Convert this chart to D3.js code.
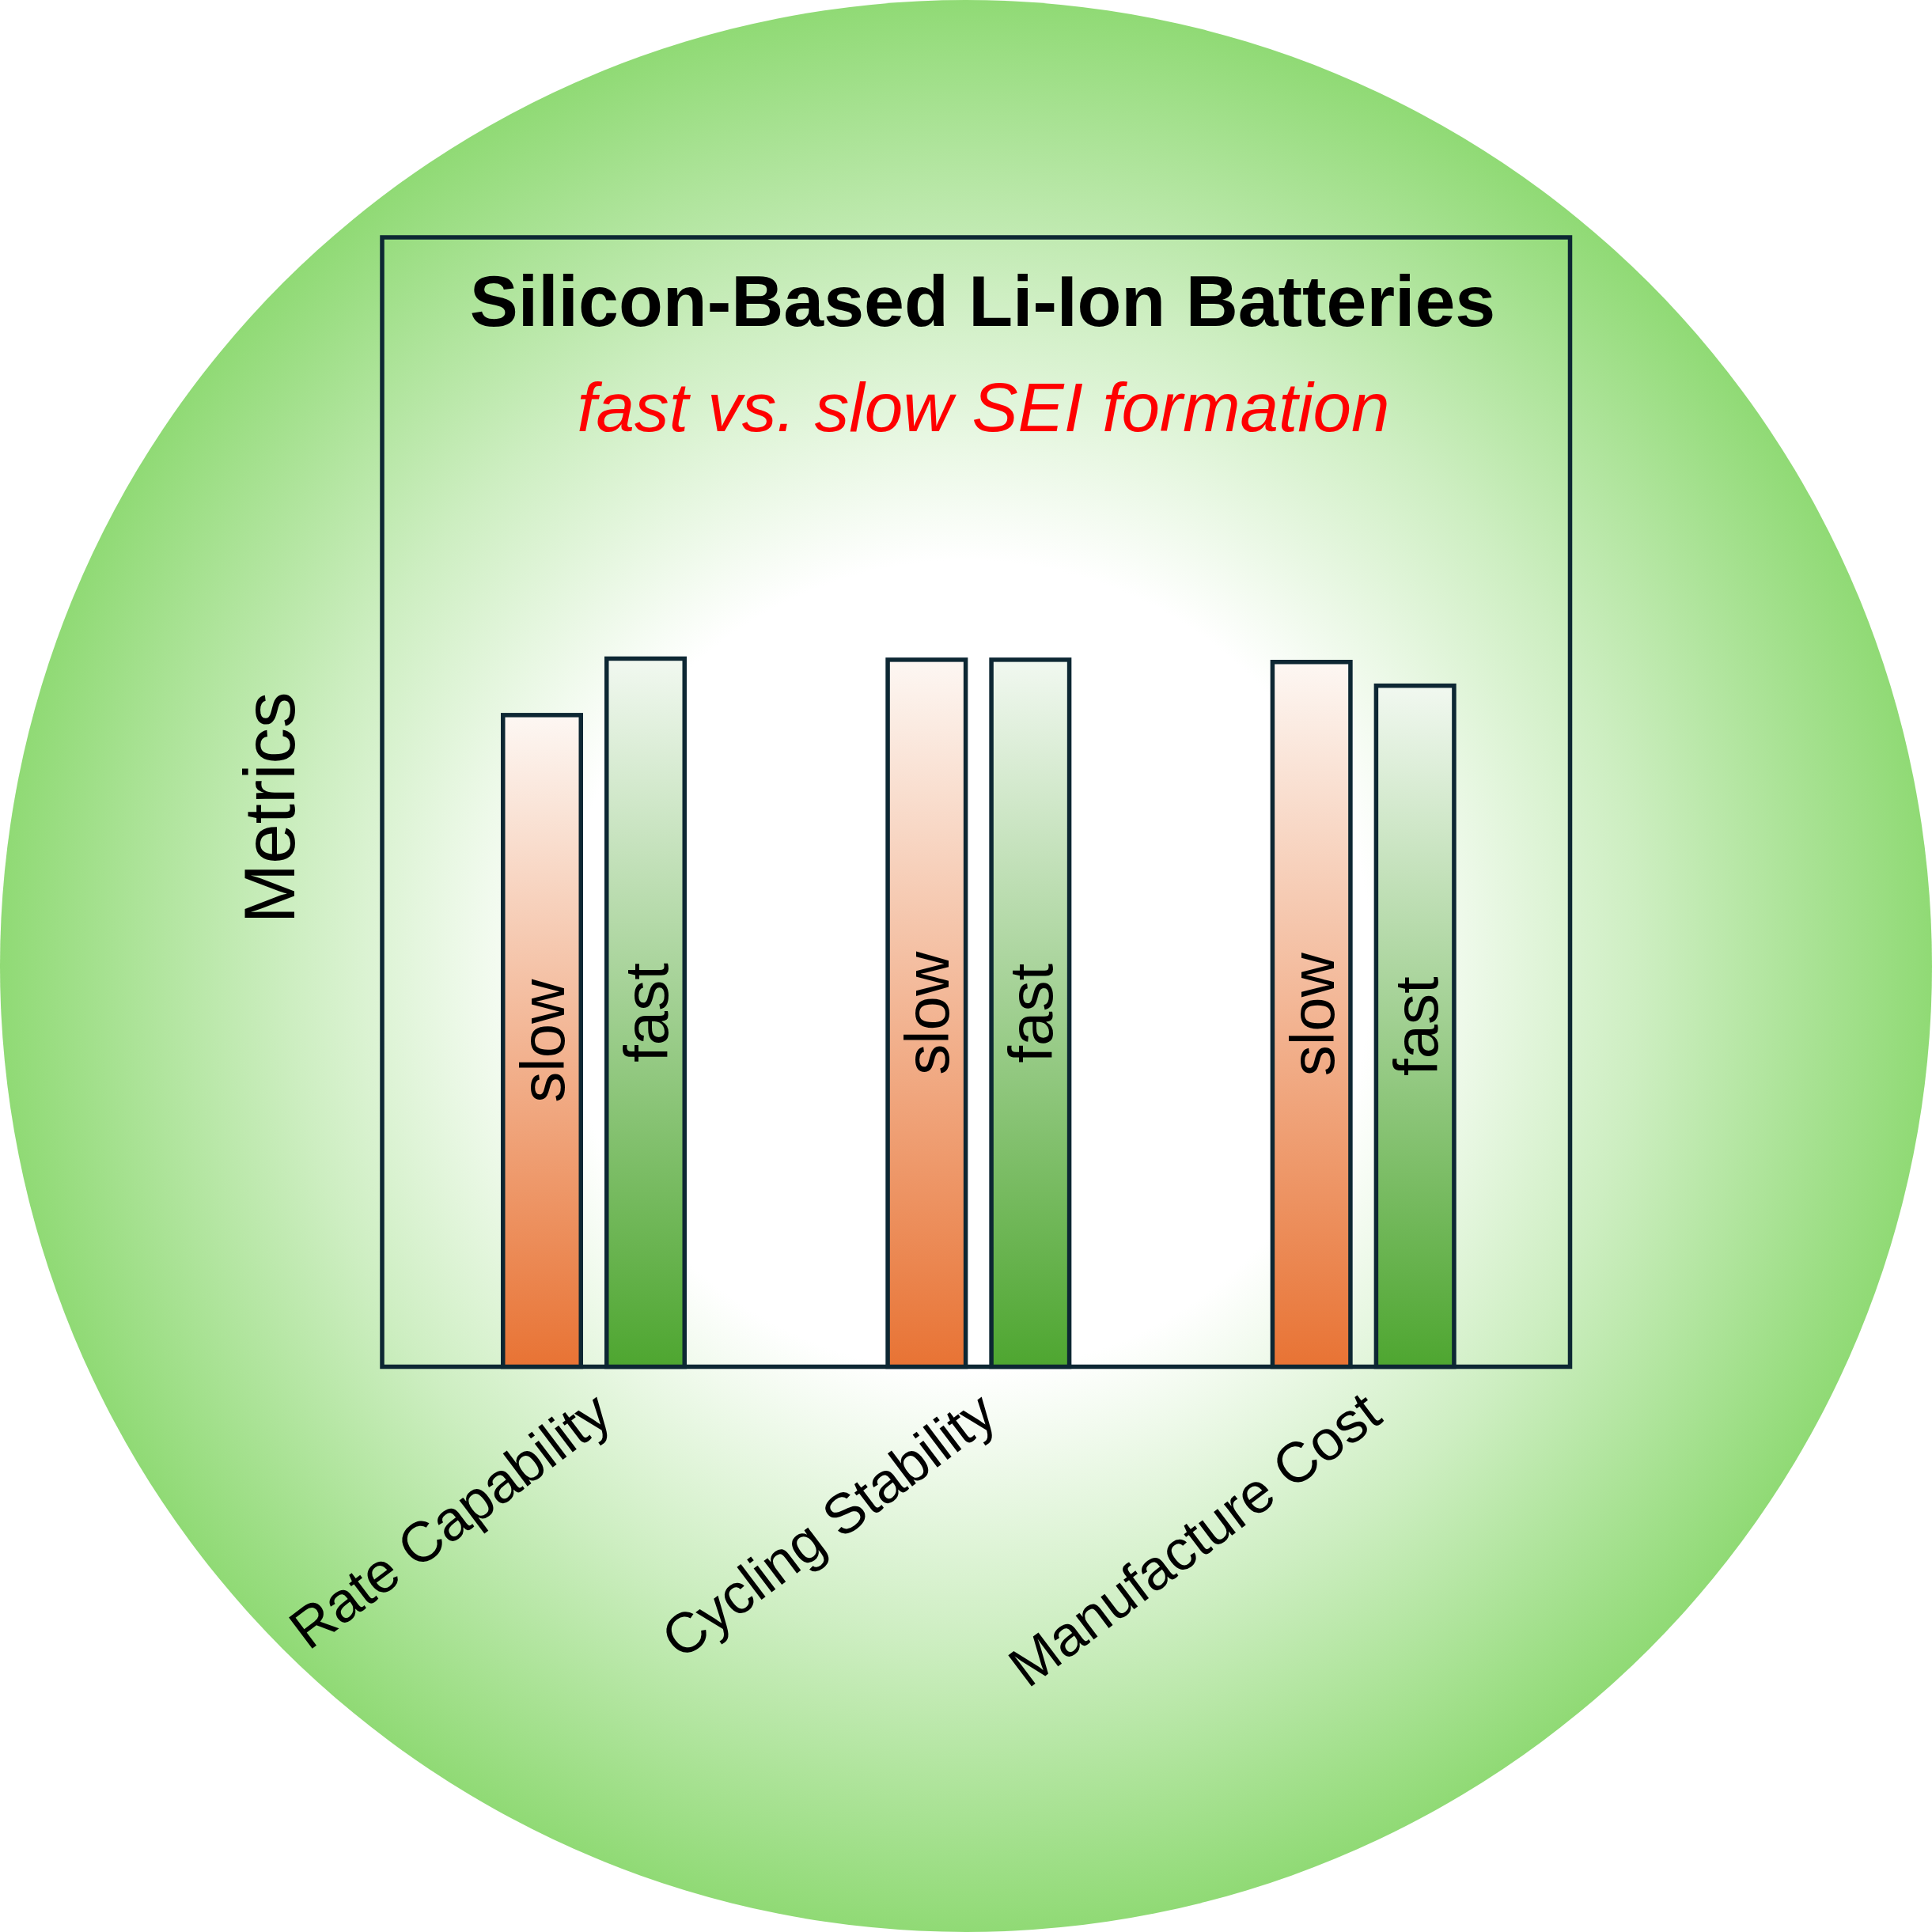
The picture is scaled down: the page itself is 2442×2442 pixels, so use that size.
<!DOCTYPE html>
<html>
<head>
<meta charset="utf-8">
<script src="https://cdn.jsdelivr.net/npm/d3@7"></script>
<style>
  html, body { margin: 0; padding: 0; background: #ffffff; }
  svg { display: block; }
  text { font-family: "Liberation Sans", Arial, Helvetica, sans-serif; }
</style>
</head>
<body>
<svg id="chart" width="2442" height="2442"></svg>
<script>
// ---- data ----
const categories = ["Rate Capability", "Cycling Stability", "Manufacture Cost"];
const series = ["slow", "fast"];
const slowValues = [57.7, 62.6, 62.4];
const fastValues = [62.7, 62.6, 60.3];
const titleText = "Silicon-Based Li-Ion Batteries";
const subtitleText = "fast vs. slow SEI formation";
const yLabel = "Metrics";

// ---- layout ----
const W = 2442, H = 2442;
const frame = { left: 483, top: 300, right: 1984.5, bottom: 1727.5 };
const strokeCol = "#0d2733";
const sw = 5.5;

const svg = d3.select("#chart");
const defs = svg.append("defs");

// background radial gradient
const bg = defs.append("radialGradient").attr("id", "bgGrad")
  .attr("cx", "50%").attr("cy", "50%").attr("r", "50%");
bg.append("stop").attr("offset", "0%").attr("stop-color", "#ffffff");
bg.append("stop").attr("offset", "42%").attr("stop-color", "#ffffff");
bg.append("stop").attr("offset", "70%").attr("stop-color", "#cdeec1");
bg.append("stop").attr("offset", "100%").attr("stop-color", "#90da75");

const gSlow = defs.append("linearGradient").attr("id", "gradSlow")
  .attr("x1", 0).attr("y1", 0).attr("x2", 0).attr("y2", 1);
gSlow.append("stop").attr("offset", "0%").attr("stop-color", "#fdf7f3");
gSlow.append("stop").attr("offset", "100%").attr("stop-color", "#e87334");

const gFast = defs.append("linearGradient").attr("id", "gradFast")
  .attr("x1", 0).attr("y1", 0).attr("x2", 0).attr("y2", 1);
gFast.append("stop").attr("offset", "0%").attr("stop-color", "#f1f8f0");
gFast.append("stop").attr("offset", "100%").attr("stop-color", "#4ea630");

svg.append("rect").attr("width", W).attr("height", H).attr("fill", "#ffffff");
svg.append("circle").attr("cx", W / 2).attr("cy", H / 2).attr("r", W / 2)
  .attr("fill", "url(#bgGrad)");

// ---- scales ----
const x0 = d3.scaleBand().domain(categories).range([507, 1966]).padding(0);
const x1 = d3.scaleBand().domain(series).range([126, 361]).paddingInner(0.206).paddingOuter(0);
const y = d3.scaleLinear().domain([0, 100]).range([frame.bottom, frame.top]);

// frame
svg.append("rect")
  .attr("x", frame.left).attr("y", frame.top)
  .attr("width", frame.right - frame.left).attr("height", frame.bottom - frame.top)
  .attr("fill", "none").attr("stroke", strokeCol).attr("stroke-width", sw);

// bars
const rows = categories.map((c, i) => ({ cat: c, vals: [
  { s: "slow", v: slowValues[i] }, { s: "fast", v: fastValues[i] } ] }));

const groups = svg.append("g").selectAll("g").data(rows).join("g")
  .attr("transform", d => `translate(${x0(d.cat)},0)`);

groups.selectAll("rect").data(d => d.vals).join("rect")
  .attr("x", d => x1(d.s) + sw / 2)
  .attr("width", x1.bandwidth() - sw)
  .attr("y", d => y(d.v))
  .attr("height", d => y(0) - y(d.v))
  .attr("fill", d => d.s === "slow" ? "url(#gradSlow)" : "url(#gradFast)")
  .attr("stroke", strokeCol).attr("stroke-width", sw);

groups.selectAll("text").data(d => d.vals).join("text")
  .attr("transform", d => `translate(${x1(d.s) + x1.bandwidth() / 2},${(y(d.v) + y(0)) / 2}) rotate(-90)`)
  .attr("text-anchor", "middle").attr("dy", "0.36em")
  .attr("font-size", 78).attr("fill", "#000")
  .text(d => d.s);

// category axis
const axis = svg.append("g").attr("transform", `translate(0,${frame.bottom})`)
  .call(d3.axisBottom(x0).tickSize(0));
axis.select(".domain").remove();
axis.selectAll("text")
  .attr("y", 0).attr("dy", 0)
  .attr("transform", "translate(27,68) rotate(-37)")
  .attr("text-anchor", "end")
  .attr("font-size", 71.5)
  .attr("font-family", "'Liberation Sans', Arial, sans-serif")
  .attr("fill", "#000");

// y label
svg.append("text")
  .attr("transform", `translate(372,1021) rotate(-90)`)
  .attr("text-anchor", "middle")
  .attr("font-size", 91).attr("fill", "#000")
  .text(yLabel);

// titles
svg.append("text").attr("x", 1242).attr("y", 412)
  .attr("text-anchor", "middle").attr("font-size", 91.5).attr("font-weight", "bold")
  .attr("fill", "#000").text(titleText);
svg.append("text").attr("x", 1243).attr("y", 545)
  .attr("text-anchor", "middle").attr("font-size", 87.2).attr("font-style", "italic")
  .attr("fill", "#ff0000").text(subtitleText);
</script>
</body>
</html>
